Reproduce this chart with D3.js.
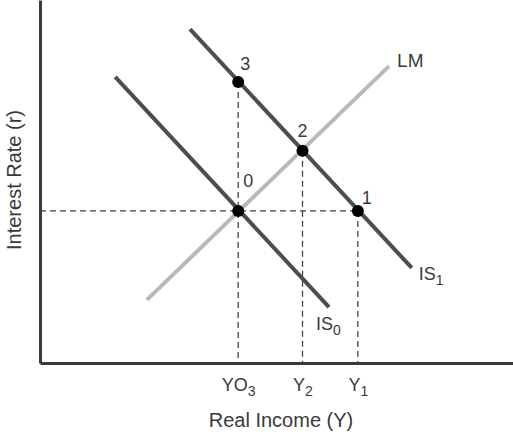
<!DOCTYPE html>
<html>
<head>
<meta charset="utf-8">
<script src="https://cdn.jsdelivr.net/npm/d3@7"></script>
<style>
  body { margin: 0; background: #fff; }
  svg { display: block; font-family: 'Liberation Sans', Arial, sans-serif; }
</style>
</head>
<body>
<div id="chart"></div>
<script>
// curves, in chart units (income 0-100, rate 0-100)
const is0 = [[15.9, 78.8], [61.1, 15.4]];
const is1 = [[31.7, 92.0], [78.6, 26.2]];
const lm = [[22.6, 17.4], [73.8, 81.8]];

// equilibrium points
const pointNames = ['0', '1', '2', '3'];
const pointX = [41.9, 67.2, 55.5, 41.9];
const pointY = [41.9, 41.9, 58.5, 77.4];

// x axis tick labels (main text, subscript)
const tickValues = [41.9, 55.5, 67.2];
const tickMain = ['YO', 'Y', 'Y'];
const tickSub = ['3', '2', '1'];

const width = 513;
const height = 434;
const margin = { top: 0, right: 0, bottom: 71, left: 40 };

const x = d3.scaleLinear().domain([0, 100]).range([margin.left, width - margin.right]);
const y = d3.scaleLinear().domain([0, 100]).range([height - margin.bottom, margin.top]);

const svg = d3
  .select('#chart')
  .append('svg')
  .attr('width', width)
  .attr('height', height);

const ink = '#3a3a3a';

// dashed guides
const points = pointNames.map((name, i) => ({ name, x: pointX[i], y: pointY[i] }));
const guides = svg.append('g')
  .attr('stroke', '#444')
  .attr('stroke-width', 1.3)
  .attr('stroke-dasharray', '6,4')
  .attr('fill', 'none');

// horizontal guide out to the farthest point at that rate
guides.append('line')
  .attr('x1', x(0))
  .attr('x2', x(d3.max(points.filter((p) => p.y === pointY[0]), (p) => p.x)))
  .attr('y1', y(pointY[0]))
  .attr('y2', y(pointY[0]));

guides.selectAll('line.v')
  .data(points.filter((p) => p.name !== '0'))
  .join('line')
  .attr('class', 'v')
  .attr('x1', (d) => x(d.x))
  .attr('x2', (d) => x(d.x))
  .attr('y1', (d) => y(d.y))
  .attr('y2', y(0));

const line = d3.line().x((d) => x(d[0])).y((d) => y(d[1]));

svg.append('path')
  .datum(lm)
  .attr('d', line)
  .attr('stroke', '#b9b9b9')
  .attr('stroke-width', 4)
  .attr('fill', 'none');

svg.selectAll('path.is')
  .data([is0, is1])
  .join('path')
  .attr('class', 'is')
  .attr('d', line)
  .attr('stroke', '#4d4d4d')
  .attr('stroke-width', 4)
  .attr('fill', 'none');

// axes
const xAxis = svg.append('g')
  .attr('transform', `translate(0,${y(0)})`)
  .call(d3.axisBottom(x).tickValues(tickValues).tickSize(0).tickPadding(15));
xAxis.select('.domain').attr('stroke', ink).attr('stroke-width', 3);
xAxis.selectAll('.tick text')
  .attr('font-size', 18)
  .attr('fill', ink)
  .attr('font-family', null)
  .text(null)
  .each(function (d, i) {
    const t = d3.select(this);
    t.append('tspan').text(tickMain[i]);
    t.append('tspan').attr('font-size', 14).attr('dy', 5).text(tickSub[i]);
  });

const yAxis = svg.append('g')
  .attr('transform', `translate(${x(0)},0)`)
  .call(d3.axisLeft(y).tickValues([]).tickSizeOuter(0));
yAxis.select('.domain').attr('stroke', ink).attr('stroke-width', 3);

// points
svg.selectAll('circle')
  .data(points)
  .join('circle')
  .attr('cx', (d) => x(d.x))
  .attr('cy', (d) => y(d.y))
  .attr('r', 6)
  .attr('fill', '#000');

const labelOffset = { '0': [10, -24], '1': [9, -7], '2': [0, -14], '3': [7, -12] };
svg.selectAll('text.pt')
  .data(points)
  .join('text')
  .attr('class', 'pt')
  .attr('x', (d) => x(d.x) + labelOffset[d.name][0])
  .attr('y', (d) => y(d.y) + labelOffset[d.name][1])
  .attr('text-anchor', 'middle')
  .attr('font-size', 18)
  .attr('fill', ink)
  .text((d) => d.name);

// curve labels
svg.append('text')
  .attr('x', x(lm[1][0]) + 8)
  .attr('y', y(lm[1][1]) + 1)
  .attr('font-size', 19)
  .attr('fill', ink)
  .text('LM');

const curveLabels = [
  { curve: is1, sub: '1', dx: 7, dy: 12 },
  { curve: is0, sub: '0', dx: -13, dy: 23 },
];
curveLabels.forEach((c) => {
  const t = svg.append('text')
    .attr('x', x(c.curve[1][0]) + c.dx)
    .attr('y', y(c.curve[1][1]) + c.dy)
    .attr('font-size', 18)
    .attr('fill', ink);
  t.append('tspan').text('IS');
  t.append('tspan').attr('font-size', 14).attr('dy', 5).text(c.sub);
});

// axis titles
svg.append('text')
  .attr('x', 281)
  .attr('y', 427)
  .attr('text-anchor', 'middle')
  .attr('font-size', 20)
  .attr('fill', ink)
  .text('Real Income (Y)');

svg.append('text')
  .attr('transform', `translate(21,${180}) rotate(-90)`)
  .attr('text-anchor', 'middle')
  .attr('font-size', 20)
  .attr('fill', ink)
  .text('Interest Rate (r)');
</script>
</body>
</html>
